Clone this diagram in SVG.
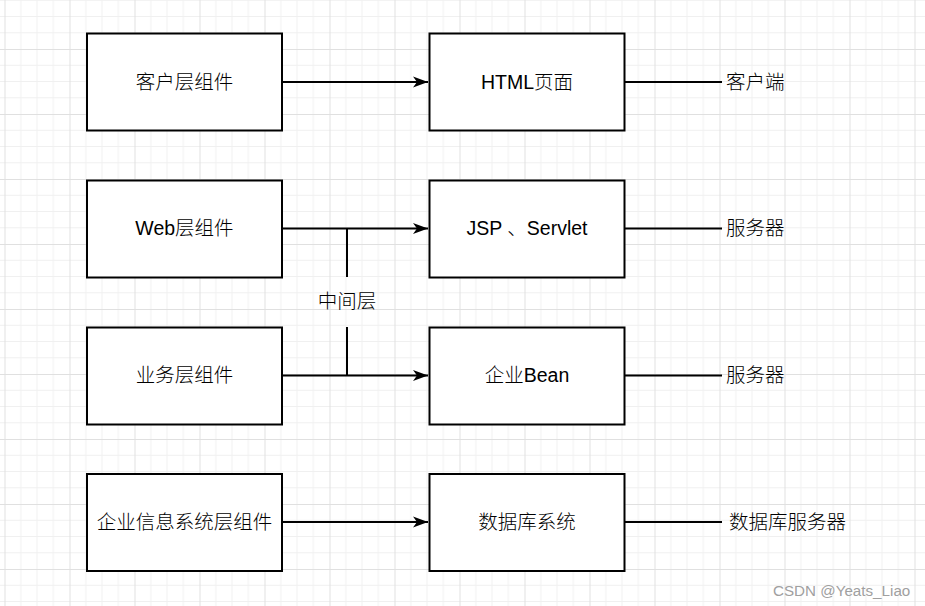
<svg xmlns="http://www.w3.org/2000/svg" width="925" height="606" viewBox="0 0 925 606">
<defs>
<pattern id="grid" patternUnits="userSpaceOnUse" x="4.5" y="49" width="65" height="65">
<path d="M16.25 0V65M32.5 0V65M48.75 0V65M0 16.25H65M0 32.5H65M0 48.75H65" stroke="#f0f0f0" stroke-width="1" fill="none"/>
<path d="M0.5 0V65M0 0.5H65" stroke="#e0e0e0" stroke-width="1" fill="none"/>
</pattern>
<marker id="arr" markerUnits="userSpaceOnUse" markerWidth="16" markerHeight="14" refX="15" refY="7" orient="auto">
<path d="M0 1.5L15 7L0 12.5L4 7Z" fill="#000"/>
</marker>
<style>
.box{fill:#fff;stroke:#000;stroke-width:2}
.t{font-family:"Liberation Sans","Noto Sans CJK SC",sans-serif;font-size:19.5px;font-weight:300;fill:#000}
.l{font-weight:400}
.c{text-anchor:middle}
.ln{stroke:#000;stroke-width:2;fill:none}
</style>
</defs>
<rect width="925" height="606" fill="#fff"/>
<rect width="925" height="606" fill="url(#grid)"/>
<g id="connectors">
<path class="ln" d="M283 82H428" marker-end="url(#arr)"/>
<path class="ln" d="M283 228.5H428" marker-end="url(#arr)"/>
<path class="ln" d="M283 375.5H428" marker-end="url(#arr)"/>
<path class="ln" d="M283 522H428" marker-end="url(#arr)"/>
<path class="ln" d="M347 228.5V277"/>
<path class="ln" d="M347 327V375.5"/>
<path class="ln" d="M625 82H722"/>
<path class="ln" d="M625 228.5H722"/>
<path class="ln" d="M625 375.5H722"/>
<path class="ln" d="M625 522H722"/>
</g>
<g id="n1"><rect class="box" x="87" y="33.5" width="195" height="97"/><text class="t c" x="184.5" y="89">客户层组件</text></g>
<g id="n2"><rect class="box" x="87" y="180.5" width="195" height="97"/><text class="t c" x="184.5" y="235"><tspan class="l">Web</tspan>层组件</text></g>
<g id="n3"><rect class="box" x="87" y="327.5" width="195" height="97"/><text class="t c" x="184.5" y="382">业务层组件</text></g>
<g id="n4"><rect class="box" x="87" y="474" width="195" height="97"/><text class="t c" x="184.5" y="529">企业信息系统层组件</text></g>
<g id="n5"><rect class="box" x="429.5" y="33.5" width="195" height="97"/><text class="t c" x="527" y="89"><tspan class="l">HTML</tspan>页面</text></g>
<g id="n6"><rect class="box" x="429.5" y="180.5" width="195" height="97"/><text class="t c" x="527" y="235"><tspan class="l">JSP </tspan>、<tspan class="l">Servlet</tspan></text></g>
<g id="n7"><rect class="box" x="429.5" y="327.5" width="195" height="97"/><text class="t c" x="527" y="382">企业<tspan class="l">Bean</tspan></text></g>
<g id="n8"><rect class="box" x="429.5" y="474" width="195" height="97"/><text class="t c" x="527" y="529">数据库系统</text></g>
<g id="labels">
<text class="t" x="726" y="89">客户端</text>
<text class="t" x="726" y="235">服务器</text>
<text class="t" x="726" y="382">服务器</text>
<text class="t" x="729" y="529">数据库服务器</text>
<text class="t c" x="347" y="308">中间层</text>
</g>
<text x="773" y="596" font-family="Liberation Sans, sans-serif" font-size="15.2px" fill="#a0a0a0">CSDN @Yeats_Liao</text>
</svg>
